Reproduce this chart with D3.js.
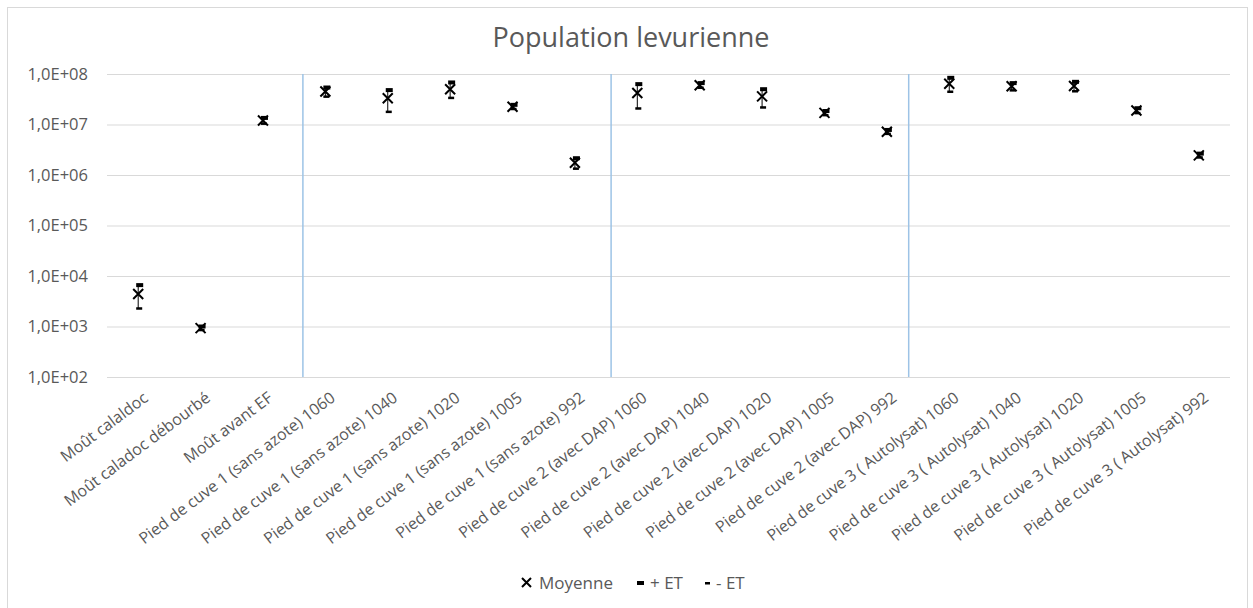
<!DOCTYPE html>
<html>
<head>
<meta charset="utf-8">
<script src="https://cdn.jsdelivr.net/npm/d3@7"></script>
<style>
  body { margin: 0; background: #fff; }
  svg { font-family: "Open Sans", sans-serif; }
</style>
</head>
<body>
<div id="chart"></div>
<script>
// Catégories (échantillons)
const categories = [
  "Moût calaldoc",
  "Moût caladoc débourbé",
  "Moût avant EF",
  "Pied de cuve 1 (sans azote) 1060",
  "Pied de cuve 1 (sans azote) 1040",
  "Pied de cuve 1 (sans azote) 1020",
  "Pied de cuve 1 (sans azote) 1005",
  "Pied de cuve 1 (sans azote) 992",
  "Pied de cuve 2 (avec DAP) 1060",
  "Pied de cuve 2 (avec DAP) 1040",
  "Pied de cuve 2 (avec DAP) 1020",
  "Pied de cuve 2 (avec DAP) 1005",
  "Pied de cuve 2 (avec DAP) 992",
  "Pied de cuve 3 ( Autolysat) 1060",
  "Pied de cuve 3 ( Autolysat) 1040",
  "Pied de cuve 3 ( Autolysat) 1020",
  "Pied de cuve 3 ( Autolysat) 1005",
  "Pied de cuve 3 ( Autolysat) 992"
];

// Moyenne, + ET, - ET (cellules/mL)
const moyenne = [4.4e3, 9.3e2, 1.2e7, 4.5e7, 3.3e7, 5.0e7, 2.25e7, 1.75e6, 4.2e7, 6.0e7, 3.6e7, 1.7e7, 7.2e6, 6.4e7, 5.7e7, 5.8e7, 1.9e7, 2.45e6];
const plusET  = [6.6e3, 1.0e3, 1.35e7, 5.4e7, 4.8e7, 6.8e7, 2.45e7, 2.15e6, 6.3e7, 6.6e7, 5.0e7, 1.85e7, 7.8e6, 8.4e7, 6.6e7, 7.0e7, 2.1e7, 2.65e6];
const moinsET = [2.3e3, 8.6e2, 1.05e7, 3.6e7, 1.8e7, 3.4e7, 2.05e7, 1.35e6, 2.1e7, 5.4e7, 2.2e7, 1.55e7, 6.6e6, 4.5e7, 4.8e7, 4.6e7, 1.7e7, 2.25e6];

// Graduations de l'axe Y
const yTicks = [1e2, 1e3, 1e4, 1e5, 1e6, 1e7, 1e8];

// Séparateurs entre groupes (en unités de catégorie)
const separators = [3.14, 8.08, 12.85];

const legendItems = ["Moyenne", "+ ET", "- ET"];

const W = 1253, H = 608;
const plot = { left: 107, right: 1230, top: 74, bottom: 377 };

const svg = d3.select("#chart").append("svg")
  .attr("width", W).attr("height", H);

// Cadre du graphique
svg.append("rect")
  .attr("x", 7.5).attr("y", 7.5)
  .attr("width", 1240).attr("height", 620)
  .attr("fill", "#fff").attr("stroke", "#d9d9d9");

const x = d3.scaleBand().domain(categories).range([plot.left, plot.right]).padding(0);
const y = d3.scaleLog().domain([1e2, 1e8]).range([plot.bottom, plot.top]);
const cx = i => x(categories[i]) + x.bandwidth() / 2;

// Titre
svg.append("text")
  .attr("x", 631).attr("y", 47)
  .attr("text-anchor", "middle")
  .attr("font-size", 27)
  .attr("fill", "#595959")
  .text("Population levurienne");

// Grille + axe Y
const yAxis = d3.axisLeft(y)
  .tickValues(yTicks)
  .tickSize(-(plot.right - plot.left))
  .tickPadding(19)
  .tickFormat(d => "1,0E+" + String(Math.round(Math.log10(d))).padStart(2, "0"));

const gy = svg.append("g")
  .attr("transform", `translate(${plot.left},0)`)
  .call(yAxis);
gy.select(".domain").remove();
gy.selectAll(".tick line").attr("stroke", "#d9d9d9");
gy.selectAll(".tick text")
  .attr("font-size", 16.5)
  .attr("fill", "#595959")
  .attr("font-family", "'Open Sans', sans-serif");

// Séparateurs verticaux
svg.append("g").selectAll("line")
  .data(separators)
  .join("line")
  .attr("x1", d => plot.left + d * x.bandwidth())
  .attr("x2", d => plot.left + d * x.bandwidth())
  .attr("y1", plot.top).attr("y2", plot.bottom)
  .attr("stroke", "#9dc3e6").attr("stroke-width", 1.5);

// Étiquettes X
svg.append("g").selectAll("text")
  .data(categories)
  .join("text")
  .attr("transform", (d, i) => `translate(${cx(i) + 4},391) rotate(-37)`)
  .attr("text-anchor", "end")
  .attr("dy", "0.71em")
  .attr("font-size", 16)
  .attr("fill", "#595959")
  .text(d => d);

// Barres d'erreur
const pts = svg.append("g");
pts.selectAll("line.err")
  .data(categories)
  .join("line")
  .attr("class", "err")
  .attr("x1", (d, i) => cx(i)).attr("x2", (d, i) => cx(i))
  .attr("y1", (d, i) => y(plusET[i])).attr("y2", (d, i) => y(moinsET[i]))
  .attr("stroke", "#000").attr("stroke-width", 1);

// + ET (tiret épais)
pts.selectAll("rect.plus")
  .data(categories)
  .join("rect")
  .attr("class", "plus")
  .attr("x", (d, i) => cx(i) - 2).attr("y", (d, i) => y(plusET[i]) - 2)
  .attr("width", 7).attr("height", 4)
  .attr("fill", "#000");

// - ET (tiret fin)
pts.selectAll("rect.moins")
  .data(categories)
  .join("rect")
  .attr("class", "moins")
  .attr("x", (d, i) => cx(i) - 2).attr("y", (d, i) => y(moinsET[i]) - 1)
  .attr("width", 6).attr("height", 2.5)
  .attr("fill", "#000");

// Moyenne (croix)
const cross = 5;
pts.selectAll("path.moy")
  .data(categories)
  .join("path")
  .attr("class", "moy")
  .attr("d", (d, i) => {
    const px = cx(i), py = y(moyenne[i]);
    return `M${px - cross},${py - cross}L${px + cross},${py + cross}M${px - cross},${py + cross}L${px + cross},${py - cross}`;
  })
  .attr("stroke", "#000").attr("stroke-width", 2).attr("fill", "none");

// Légende
const legend = svg.append("g").attr("transform", "translate(522,589)");
const offsets = [0, 115, 183];
const textDx = [17, 13, 11];
legendItems.forEach((label, k) => {
  const g = legend.append("g").attr("transform", `translate(${offsets[k]},0)`);
  if (k === 0) {
    g.append("path")
      .attr("d", "M0,-11L9,-2M0,-2L9,-11")
      .attr("stroke", "#000").attr("stroke-width", 2);
  } else if (k === 1) {
    g.append("rect").attr("x", 0).attr("y", -8).attr("width", 7).attr("height", 4).attr("fill", "#000");
  } else {
    g.append("rect").attr("x", 0).attr("y", -7).attr("width", 5).attr("height", 2.5).attr("fill", "#000");
  }
  g.append("text")
    .attr("x", textDx[k]).attr("y", 0)
    .attr("font-size", 17)
    .attr("fill", "#595959")
    .text(label);
});
</script>
</body>
</html>
